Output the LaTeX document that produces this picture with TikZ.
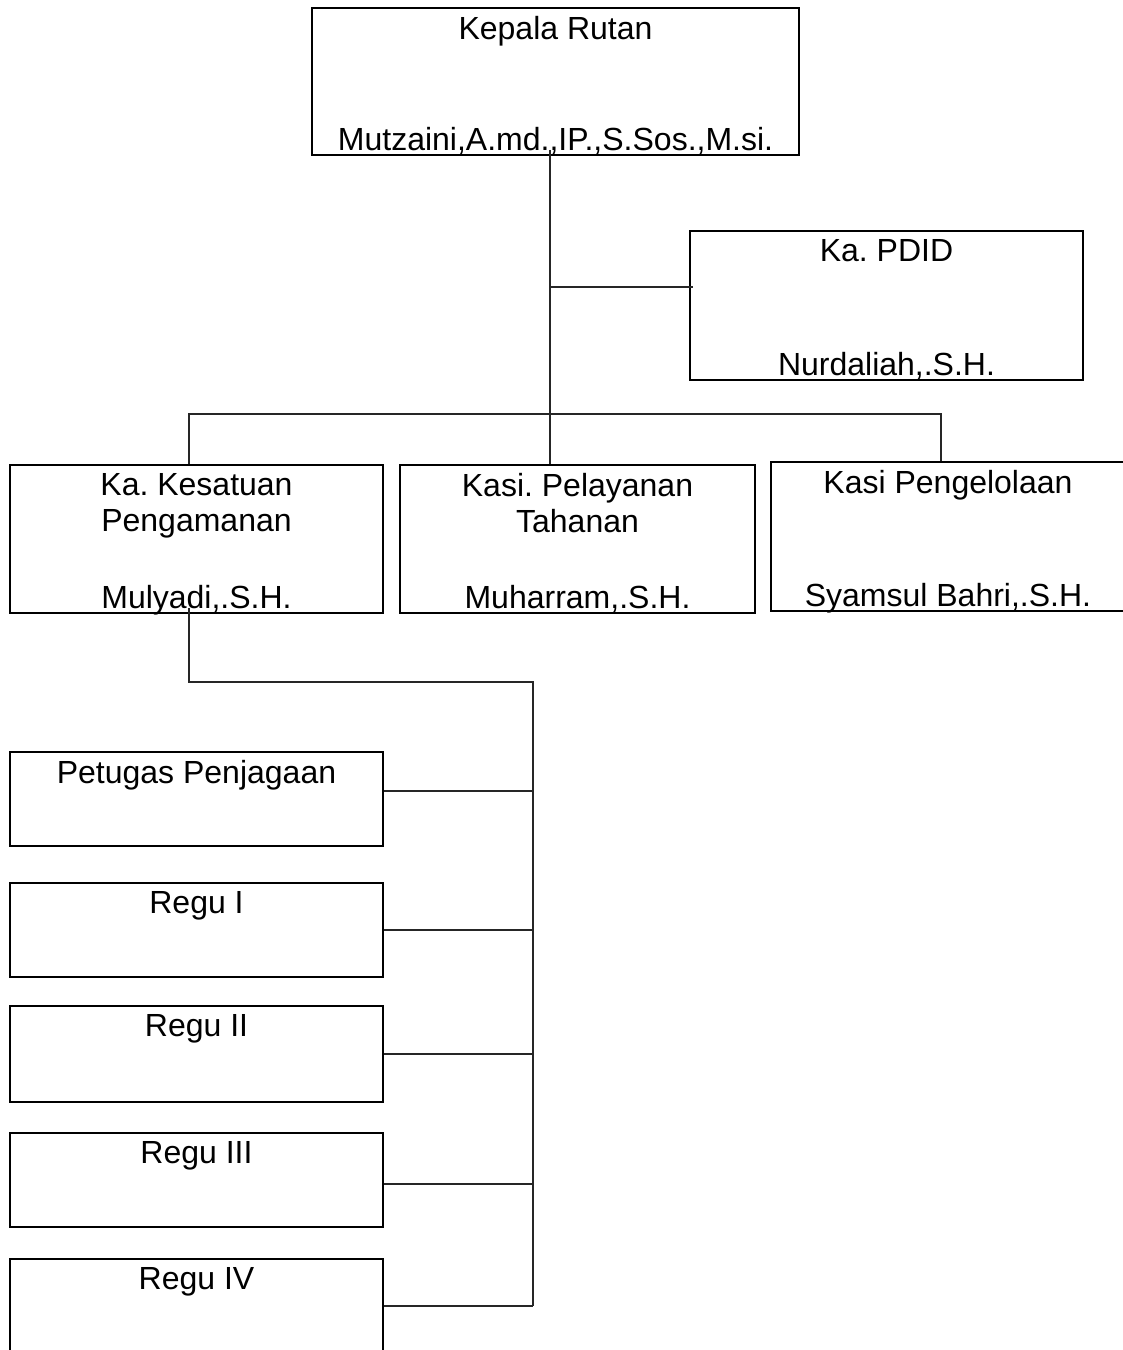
\documentclass[tikz,border=0pt]{standalone}
\usepackage{fontspec}
\setmainfont{Liberation Sans}
\usepackage{tikz}
\usetikzlibrary{positioning,calc}
\frenchspacing

\begin{document}
\begin{tikzpicture}[x=1pt,y=-1pt,
    box/.style={draw,line width=1.8pt,minimum width=373pt,minimum height=94pt,inner sep=0pt},
    boxtitle/.style={anchor=north,inner sep=0pt,align=center,yshift=-9pt,
                  font=\fontsize{32pt}{36.5pt}\selectfont},
    boxname/.style={anchor=base,inner sep=0pt,yshift=5.5pt,
                 font=\fontsize{32pt}{36.5pt}\selectfont},
    link/.style={draw=black!85,line width=1.5pt}]
    \useasboundingbox (0,0) rectangle (1123,1350);

    \node[box,minimum width=487pt,minimum height=147pt] (kepala) at (555.5,81.5) {};
    \node[box,minimum width=393pt,minimum height=149pt] (pdid) at (886.5,305.5) {};
    \node[box,minimum height=148pt] (kesatuan) at (196.5,539) {};
    \node[box,minimum width=355pt,minimum height=148pt] (pelayanan) at (577.5,539) {};
    \node[box,minimum width=354pt,minimum height=149pt] (pengelolaan) at (948,536.5) {};
    \node[box] (petugas) at (196.5,799) {};
    \node[box] (regu1) at (196.5,930) {};
    \node[box,minimum height=96pt] (regu2) at (196.5,1054) {};
    \node[box] (regu3) at (196.5,1180) {};
    \node[box] (regu4) at (196.5,1306) {};

    \node[boxtitle] (kepala-t) at (kepala.north) {Kepala Rutan};
    \node[boxname] (kepala-n) at (kepala.south) {Mutzaini,A.md.,IP.,S.Sos.,M.si.};
    \node[boxtitle] (pdid-t) at (pdid.north) {Ka. PDID};
    \node[boxname] (pdid-n) at (pdid.south) {Nurdaliah,.S.H.};
    \node[boxtitle] (kesatuan-t) at (kesatuan.north) {Ka. Kesatuan\\Pengamanan};
    \node[boxname] (kesatuan-n) at (kesatuan.south) {Mulyadi,.S.H.};
    \node[boxtitle] (pelayanan-t) at (pelayanan.north) {Kasi. Pelayanan\\Tahanan};
    \node[boxname] (pelayanan-n) at (pelayanan.south) {Muharram,.S.H.};
    \node[boxtitle] (pengelolaan-t) at (pengelolaan.north) {Kasi Pengelolaan};
    \node[boxname] (pengelolaan-n) at (pengelolaan.south) {Syamsul Bahri,.S.H.};
    \node[boxtitle] (petugas-t) at (petugas.north) {Petugas Penjagaan};
    \node[boxtitle] (regu1-t) at (regu1.north) {Regu I};
    \node[boxtitle] (regu2-t) at (regu2.north) {Regu II};
    \node[boxtitle] (regu3-t) at (regu3.north) {Regu III};
    \node[boxtitle] (regu4-t) at (regu4.north) {Regu IV};

    \coordinate (trunk) at (550,414);
    \coordinate (pdidjoin) at (550,287);
    \coordinate (barL) at (189,414);
    \coordinate (barR) at (941,414);
    \coordinate (drop) at (189,682);
    \coordinate (spine) at (533,682);

    \draw[link] ([yshift=6pt]kepala.south -| trunk) -- (trunk) -- (pelayanan.north -| trunk);
    \draw[link] (pdidjoin) -- ([xshift=4pt]pdidjoin -| pdid.west);
    \draw[link] (kesatuan.north -| barL) -- (barL) -- (barR) -- (pengelolaan.north -| barR);
    \draw[link] ([yshift=6pt]kesatuan.south -| drop) -- (drop) -- (spine) -- (regu4.east -| spine);
    \draw[link] ([yshift=8pt]petugas.east) -- ([yshift=8pt]petugas.east -| spine);
    \draw[link] (regu1.east) -- (regu1.east -| spine);
    \draw[link] (regu2.east) -- (regu2.east -| spine);
    \draw[link] ([yshift=-4pt]regu3.east) -- ([yshift=-4pt]regu3.east -| spine);
    \draw[link] (regu4.east) -- (regu4.east -| spine);
  \end{tikzpicture}
\end{document}
